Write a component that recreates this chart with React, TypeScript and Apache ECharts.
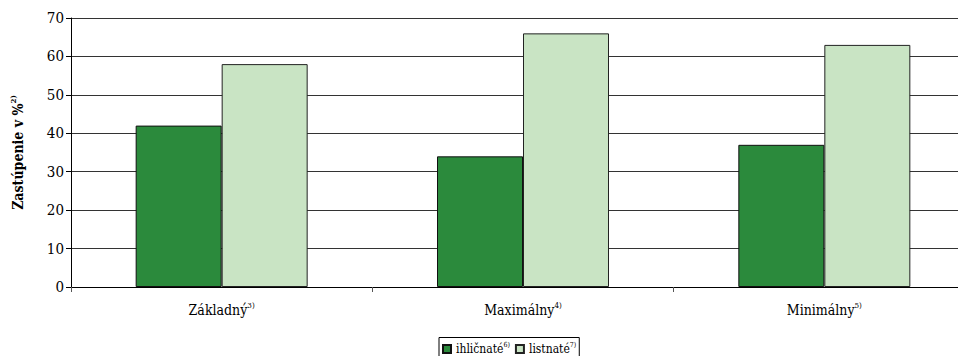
import React, { useEffect, useRef } from "react";
import * as echarts from "echarts";

const categories = ["Základný", "Maximálny", "Minimálny"];
const categoryNotes = ["3)", "4)", "5)"];
const coniferous = [42, 34, 37];
const broadleaved = [58, 66, 63];
const seriesNames = ["ihličnaté", "listnaté"];
const seriesNotes = ["6)", "7)"];
const yTicks = [0, 10, 20, 30, 40, 50, 60, 70];

const FONT = "'DejaVu Serif Condensed', 'DejaVu Serif'";

export default function App() {
  const ref = useRef<HTMLDivElement>(null);

  useEffect(() => {
    if (!ref.current) return;
    const chart = echarts.init(ref.current, null, { renderer: "svg" });
    const sup = { fontSize: 8, fontFamily: FONT, color: "#000", verticalAlign: "top", lineHeight: 15 };
    chart.setOption({
      animation: false,
      textStyle: { fontFamily: FONT },
      grid: { left: 63, top: 10, width: 904, height: 269, containLabel: false, outerBoundsMode: "none" },
      legend: {
        bottom: -5,
        left: 431,
        orient: "horizontal",
        itemWidth: 8,
        itemHeight: 8,
        itemGap: 5,
        padding: [4, 3, 6, 3],
        borderColor: "#000",
        borderWidth: 1,
        icon: "rect",
        textStyle: {
          fontFamily: FONT,
          fontSize: 12,
          color: "#000",
          rich: { s: { ...sup, fontSize: 7 }, n: { fontSize: 12, fontFamily: FONT, color: "#000", lineHeight: 15 } },
        },
        formatter: (name: string) => {
          const i = seriesNames.indexOf(name);
          return `{n|${name}}{s|${seriesNotes[i]}}`;
        },
      },
      xAxis: {
        type: "category",
        data: categories,
        axisLine: { lineStyle: { color: "#000", width: 1 } },
        axisTick: { show: true, length: 5, inside: false, alignWithLabel: false, lineStyle: { color: "#555" } },
        axisLabel: {
          margin: 14,
          fontFamily: FONT,
          fontSize: 14,
          color: "#000",
          rich: { s: sup, n: { fontSize: 14, fontFamily: FONT, color: "#000", lineHeight: 18 } },
          formatter: (v: string) => {
            const i = categories.indexOf(v);
            return `{n|${v}}{s|${categoryNotes[i]}}`;
          },
        },
      },
      yAxis: {
        type: "value",
        min: yTicks[0],
        max: yTicks[yTicks.length - 1],
        interval: 10,
        name: "{n|Zastúpenie v %}{s|2)}",
        nameLocation: "middle",
        nameRotate: 90,
        nameGap: 44,
        nameTextStyle: {
          fontFamily: FONT,
          fontSize: 14,
          fontWeight: "bold",
          color: "#000",
          rich: {
            n: { fontFamily: FONT, fontSize: 14, fontWeight: "bold", color: "#000", lineHeight: 18 },
            s: { fontFamily: FONT, fontSize: 8, fontWeight: "bold", color: "#000", verticalAlign: "top", lineHeight: 18 },
          },
        },
        axisLine: { show: true, lineStyle: { color: "#000", width: 1 } },
        axisTick: { show: true, length: 5, lineStyle: { color: "#000" } },
        axisLabel: { margin: 7, fontFamily: FONT, fontSize: 15, color: "#000" },
        splitLine: { show: true, lineStyle: { color: "#333", width: 1 } },
      },
      series: [
        {
          name: seriesNames[0],
          type: "bar",
          data: coniferous,
          barWidth: 86,
          barGap: "0%",
          itemStyle: { color: "#2b8a3c", borderColor: "#111", borderWidth: 1 },
        },
        {
          name: seriesNames[1],
          type: "bar",
          data: broadleaved,
          barWidth: 86,
          barGap: "0%",
          itemStyle: { color: "#c9e4c4", borderColor: "#222", borderWidth: 1 },
        },
      ],
    });
    return () => chart.dispose();
  }, []);

  return (
    <div style={{ width: 950, height: 348, overflow: "hidden" }}>
      <div ref={ref} style={{ width: 980, height: 348 }} />
    </div>
  );
}
